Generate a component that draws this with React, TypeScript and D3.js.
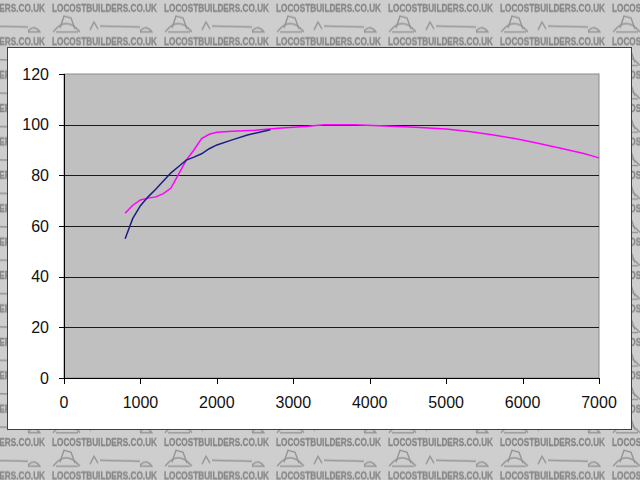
import React from "react";
import * as d3 from "d3";

const xTicks = [0, 1000, 2000, 3000, 4000, 5000, 6000, 7000];
const yTicks = [0, 20, 40, 60, 80, 100, 120];

const magentaRpm = [800, 900, 1000, 1100, 1200, 1300, 1400, 1500, 1600, 1700, 1800, 1900, 2000, 2200, 2500, 2800, 3000, 3200, 3400, 3800, 4200, 4600, 5000, 5300, 5600, 5900, 6200, 6500, 6800, 7000];
const magentaPct = [65, 68.2, 70.3, 71, 71.5, 72.8, 75, 80.5, 86, 90, 94.5, 96.2, 97, 97.4, 97.8, 98.6, 99, 99.4, 100, 100, 99.5, 99, 98.3, 97.3, 96, 94.5, 92.7, 90.7, 88.6, 86.9];

const blueRpm = [800, 850, 900, 1000, 1100, 1200, 1300, 1400, 1500, 1600, 1700, 1800, 1900, 2000, 2200, 2400, 2600, 2700];
const bluePct = [55, 59, 63, 68, 71.5, 74.5, 77.8, 81, 83.5, 86, 87.2, 88.5, 90.5, 92, 94, 95.9, 97.3, 98];

const watermark = "LOCOSTBUILDERS.CO.UK";

export default function App() {
  const W = 640, H = 480;
  const x = d3.scaleLinear().domain([0, 7000]).range([64, 599]);
  const y = d3.scaleLinear().domain([0, 120]).range([378, 74]);
  const line = d3.line<[number, number]>().x(d => x(d[0])).y(d => y(d[1]));
  const magenta = magentaRpm.map((r, i) => [r, magentaPct[i]] as [number, number]);
  const blue = blueRpm.map((r, i) => [r, bluePct[i]] as [number, number]);
  const font = "'Liberation Sans', Arial, sans-serif";

  return (
    <svg width={W} height={H} style={{ position: "absolute", left: 0, top: 0 }} xmlns="http://www.w3.org/2000/svg">
      <defs>
        <pattern id="wm" patternUnits="userSpaceOnUse" x={52} y={0} width={112} height={33.4}>
          <rect width={112} height={33.4} fill="#cecece" />
          <text x={0} y={11.5} fontFamily={font} fontWeight="bold" fontSize={11} fill="#868686"
            stroke="#868686" strokeWidth={0.3}
            textLength={105} lengthAdjust="spacingAndGlyphs">{watermark}</text>
          <g fill="none" stroke="#939393" strokeWidth={1.4}>
            <path d="M1,32 Q14,15 28,32" />
            <path d="M8,28 L12,16 L19,18 L23,29" />
            <path d="M4,32 L26,32" />
            <path d="M38,30 L42,22 L46,29" />
            <path d="M48,26 L88,27" />
            <path d="M-24,27 L-2,27" />
            <path d="M88,31 Q94,24 100,32 L88,32" />
          </g>
        </pattern>
      </defs>
      <rect x={0} y={0} width={W} height={H} fill="url(#wm)" />
      <rect x={7.5} y={47.5} width={624} height={382} fill="#ffffff" stroke="#404040" strokeWidth={1} />
      <rect x={64} y={74} width={535} height={304} fill="#c0c0c0" stroke="#8a8a8a" strokeWidth={1} />
      {yTicks.filter(t => t > 0 && t < 120).map(t => (
        <line key={"g" + t} x1={64} x2={599} y1={Math.round(y(t)) + 0.5} y2={Math.round(y(t)) + 0.5} stroke="#1a1a1a" strokeWidth={1} />
      ))}
      <line x1={64.5} x2={64.5} y1={74} y2={378} stroke="#000" />
      <line x1={64} x2={599} y1={378.5} y2={378.5} stroke="#000" />
      {yTicks.map(t => (
        <g key={"y" + t}>
          <line x1={59} x2={64} y1={Math.round(y(t)) + 0.5} y2={Math.round(y(t)) + 0.5} stroke="#000" />
          <text x={49} y={y(t)} dy="0.36em" textAnchor="end" fontFamily={font} fontSize={16} fill="#111">{t}</text>
        </g>
      ))}
      {xTicks.map(t => (
        <g key={"x" + t}>
          <line x1={Math.round(x(t)) + 0.5} x2={Math.round(x(t)) + 0.5} y1={378} y2={384} stroke="#000" />
          <text x={x(t)} y={408} textAnchor="middle" fontFamily={font} fontSize={16} fill="#111">{t}</text>
        </g>
      ))}
      <path d={line(magenta) || ""} fill="none" stroke="#ff00ff" strokeWidth={1.5} />
      <path d={line(blue) || ""} fill="none" stroke="#1c1c86" strokeWidth={1.5} />
    </svg>
  );
}
